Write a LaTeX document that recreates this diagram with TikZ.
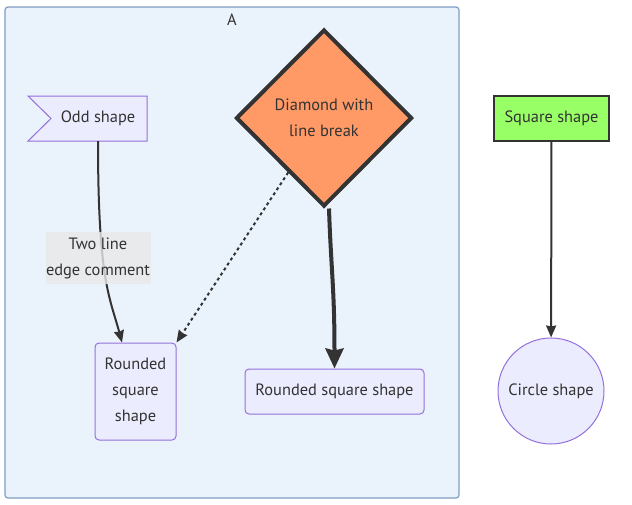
\documentclass[tikz,border=0pt]{standalone}
\usepackage{fontspec}
\setmainfont{PT Sans}
\usepackage{tikz}
\usetikzlibrary{arrows.meta,positioning,calc,shapes.geometric}
\definecolor{clfill}{RGB}{234,242,252}
\definecolor{cldraw}{RGB}{128,157,194}
\definecolor{lilacfill}{RGB}{236,236,255}
\definecolor{lilac}{RGB}{147,112,219}
\definecolor{ink}{RGB}{51,51,51}
\definecolor{orangefill}{RGB}{255,153,102}
\definecolor{greenfill}{RGB}{153,255,102}
\definecolor{labelgray}{RGB}{232,232,232}

\begin{document}
\begin{tikzpicture}[x=1pt,y=-1pt,
	every node/.style={font=\fontsize{16.4}{26}\selectfont,text=ink,align=center},
	lilacbox/.style={draw=lilac,fill=lilacfill,line width=1pt,rounded corners=4pt},
	edge/.style={draw=ink,line width=2pt,-{Stealth[length=12pt,width=10pt,inset=1pt]}}]
		\useasboundingbox (0,0) rectangle (632,504);
		\draw[draw=cldraw,fill=clfill,rounded corners=3pt,line width=1.2pt] (5,7) rectangle (459,498);
		\node (clA) at (232,20) {A};
		\filldraw[draw=lilac,fill=lilacfill,line width=1pt] (28,96) -- (147,96) -- (147,141) -- (28,141) -- (51,118.5) -- cycle;
		\node[minimum width=98pt,minimum height=45pt,inner sep=0pt] (odd) at (98,118.5) {Odd shape};
		\node[diamond,draw=ink,fill=orangefill,line width=4pt,minimum width=176pt,minimum height=177pt,inner sep=0pt] (dia) at (324,118) {Diamond with\\line break};
		\node[draw=ink,fill=greenfill,line width=2pt,minimum width=115pt,minimum height=45pt] (sq) at (551.5,118.5) {Square shape};
		\node[lilacbox,minimum width=81pt,minimum height=97pt] (rsq1) at (135.5,391.5) {Rounded\\square\\shape};
		\node[lilacbox,minimum width=179pt,minimum height=45pt] (rsq2) at (334.5,391.5) {Rounded square shape};
		\node[circle,draw=lilac,fill=lilacfill,line width=1pt,minimum size=106pt] (circ) at (551,391) {Circle shape};
		\draw[edge] (odd.south) .. controls +(0,140) and +(-12,-45) .. ([xshift=-13.5pt]rsq1.north);
		\node[fill=labelgray,fill opacity=0.8,text opacity=1,minimum width=105pt,minimum height=52pt,inner sep=0pt] (lbl) at (98,258) {Two line\\edge comment};
		\draw[edge,dash pattern=on 3pt off 3pt] (dia) -- (rsq1.north east);
		\draw[draw=ink,line width=4pt,-{Stealth[length=20pt,width=18pt,inset=2pt]}] ([xshift=5pt]dia.south) .. controls +(2,60) and +(0,-80) .. (rsq2.north);
		\draw[edge] (sq) -- (circ);
\end{tikzpicture}
\end{document}
